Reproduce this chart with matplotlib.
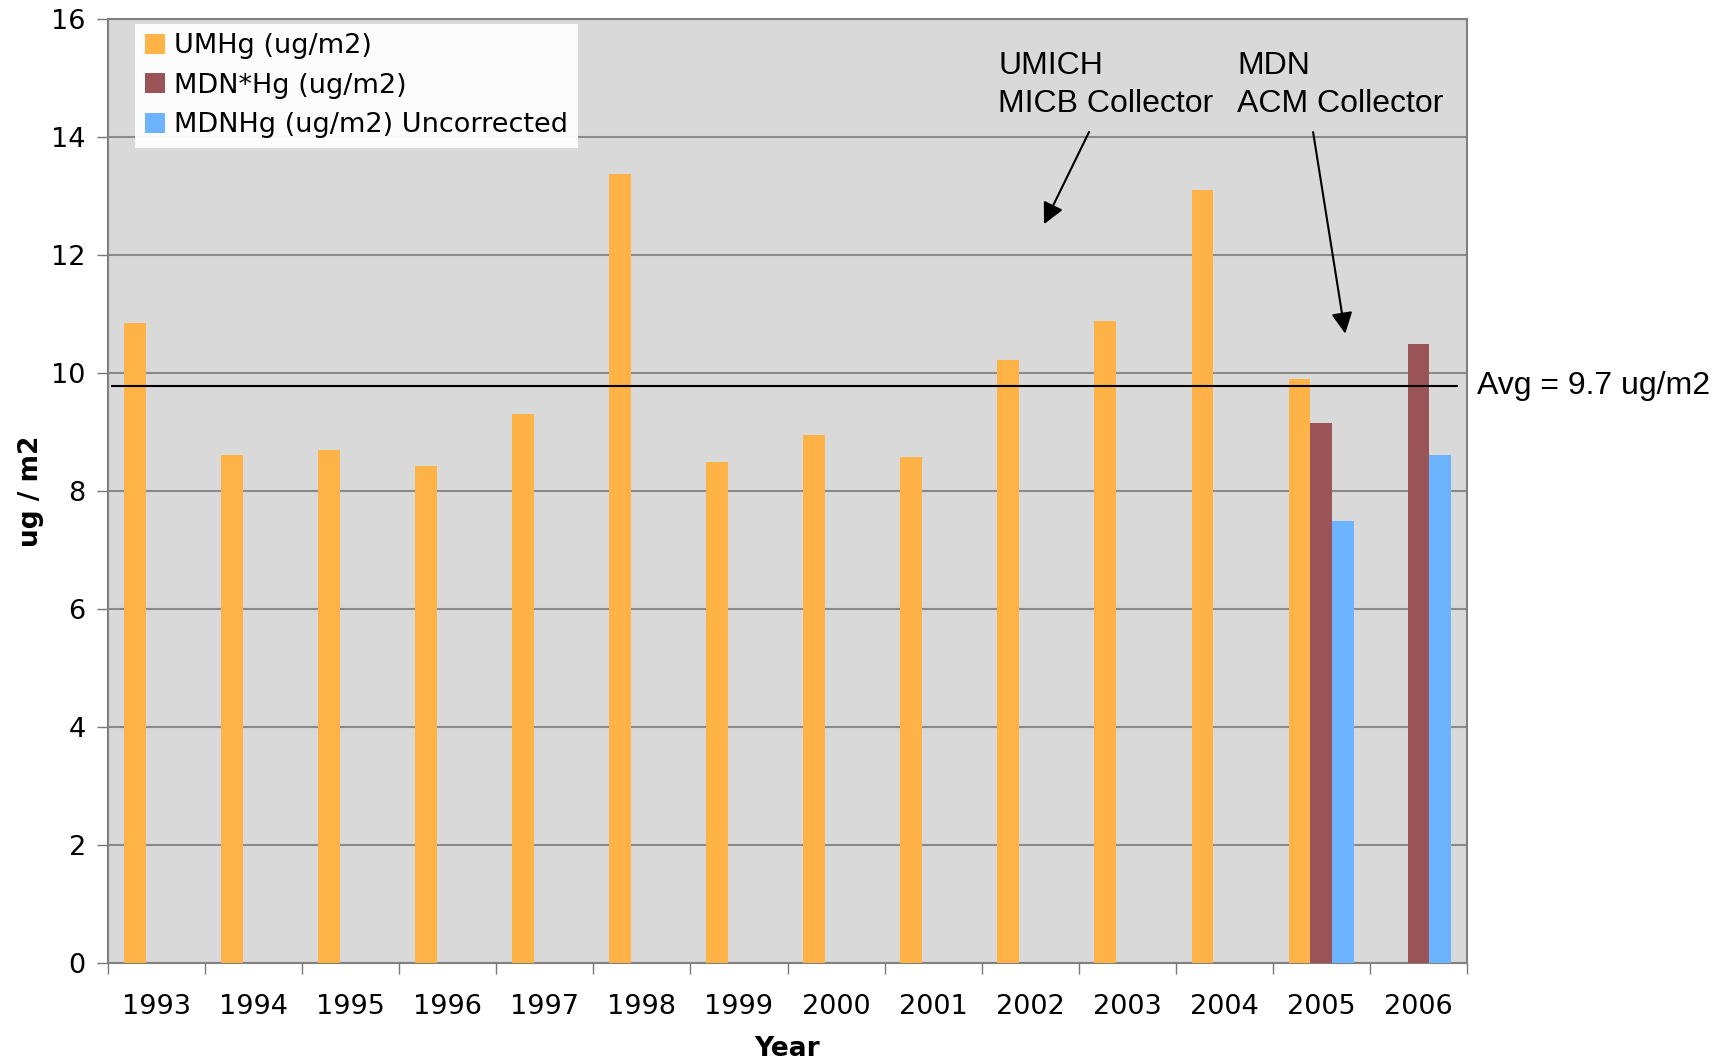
import matplotlib
matplotlib.use("Agg")
import matplotlib.pyplot as plt
import numpy as np

years = ["1993", "1994", "1995", "1996", "1997", "1998", "1999",
         "2000", "2001", "2002", "2003", "2004", "2005", "2006"]
umhg = [10.84, 8.61, 8.69, 8.42, 9.31, 13.38, 8.50,
        8.95, 8.57, 10.22, 10.88, 13.11, 9.89, np.nan]
mdn_star = [np.nan] * 12 + [9.16, 10.49]
mdn_uncorr = [np.nan] * 12 + [7.49, 8.61]
labels = ["UMHg (ug/m2)", "MDN*Hg (ug/m2)", "MDNHg (ug/m2) Uncorrected"]
colors = ["#FFB347", "#9A5458", "#6CB4FF"]
avg_value = 9.78
avg_label = "Avg = 9.7 ug/m2"

W, H = 1735, 1063
fig = plt.figure(figsize=(W / 100, H / 100), dpi=100)
ax = fig.add_axes([108 / W, 1 - 963 / H, 1359 / W, 944 / H])
ax.set_facecolor("#D9D9D9")

x = np.arange(len(years))
bw = 0.225
for i, (vals, lab, col) in enumerate(zip([umhg, mdn_star, mdn_uncorr], labels, colors)):
    ax.bar(x + (i - 1) * bw, vals, width=bw, color=col, label=lab, zorder=3)

ax.set_xlim(-0.5, len(years) - 0.5)
ax.set_ylim(0, 16)
ax.set_yticks(np.arange(0, 17, 2))
ax.yaxis.grid(True, color="#8a8a8a", linewidth=1.5, zorder=1)
ax.set_axisbelow(True)

# ticks at category boundaries, labels at centres
ax.set_xticks(np.arange(-0.5, len(years), 1))
ax.set_xticklabels([])
ax.set_xticks(x, minor=True)
ax.set_xticklabels(years, minor=True)
ax.tick_params(axis="x", which="major", length=8, width=1, color="#777777", direction="out")
ax.tick_params(axis="x", which="minor", length=0, pad=22, labelsize=19.5)
ax.tick_params(axis="y", length=8, width=1, color="#777777", pad=8, labelsize=19.5)

for s in ax.spines.values():
    s.set_color("#808080")
    s.set_linewidth(1.5)

ax.set_xlabel("Year", fontsize=19, fontweight="bold", labelpad=12)
ax.set_ylabel("ug / m2", fontsize=19, fontweight="bold")
ax.yaxis.set_label_coords(-0.047, 0.5)

ax.axhline(avg_value, xmin=0.003, xmax=0.993, color="black", linewidth=1.5, zorder=4)
ax.text(1.007, avg_value, avg_label, transform=ax.get_yaxis_transform(),
        fontsize=23, family="Liberation Sans", va="center", ha="left")

ax.text(8.67, 15.45, "UMICH\nMICB Collector", fontsize=23, family="Liberation Sans",
        va="top", ha="left", linespacing=1.32)
ax.text(11.13, 15.45, "MDN\nACM Collector", fontsize=23, family="Liberation Sans",
        va="top", ha="left", linespacing=1.32)
arrow = dict(arrowstyle="-|>", color="black", lw=1.5, mutation_scale=32)
ax.annotate("", xy=(9.13, 12.48), xytext=(9.62, 14.13), arrowprops=arrow)
ax.annotate("", xy=(12.25, 10.62), xytext=(11.91, 14.13), arrowprops=arrow)

leg = ax.legend(loc="upper left", bbox_to_anchor=(0.02, 0.995), fontsize=19.5,
                frameon=True, fancybox=False, borderaxespad=0, borderpad=0.35,
                handlelength=0.75, handleheight=0.75, handletextpad=0.35,
                labelspacing=0.5)
leg.get_frame().set_facecolor("white")
leg.get_frame().set_edgecolor("none")
leg.get_frame().set_alpha(0.95)

fig.savefig("out.png", dpi=100)
